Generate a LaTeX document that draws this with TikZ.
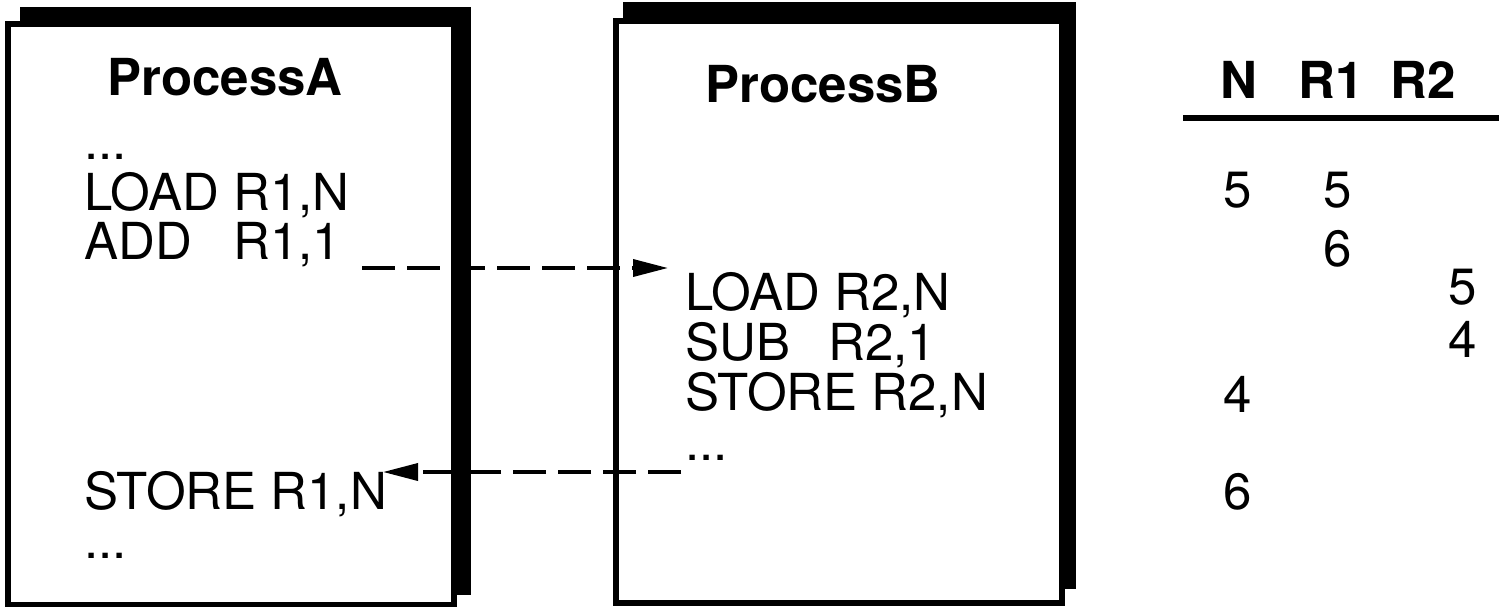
\documentclass[tikz,border=0pt]{standalone}
\usepackage{fontspec}
\setmainfont{TeX Gyre Heros}
\usetikzlibrary{arrows.meta}
\begin{document}
\begin{tikzpicture}[x=0.5pt,y=-0.5pt,
  txt/.style={anchor=base west,inner sep=0pt,font=\fontsize{25.5}{30}\selectfont},
  bold/.style={anchor=base west,inner sep=0pt,font=\fontsize{25.5}{30}\selectfont\bfseries},
  shadowbox/.style={fill=black},
  frontbox/.style={draw=black,fill=white,line width=3pt},
  flow/.style={line width=1.8pt,dash pattern=on 16.5pt off 6pt,-{Triangle[length=17.5pt,width=8.5pt]}}]
\useasboundingbox (0,0) rectangle (1499,606);
% Box A
\fill[shadowbox] (20,7) rectangle (471,595);
\draw[frontbox] (8,24) rectangle (454,605);
% Box B
\fill[shadowbox] (623,2) rectangle (1076,589);
\draw[frontbox,line width=2.75pt] (616,21) rectangle (1062,603);
% titles
\node[bold] (tA) at (107,95) {ProcessA};
\node[bold] (tB) at (705,102) {ProcessB};
% Process A code
\node[txt] (a0) at (84,159) {...};
\node[txt] (a1) at (84,210) {LOAD R1,N};
\node[txt] (a2) at (84,259) {\rlap{ADD}\phantom{LOAD }R1,1};
\node[txt] (a3) at (84,509) {STORE R1,N};
\node[txt] (a4) at (84,558) {...};
% Process B code
\node[txt] (b1) at (685,310) {LOAD R2,N};
\node[txt] (b2) at (685,360) {\rlap{SUB}\phantom{LOAD}\hspace{4pt}R2,1};
\node[txt] (b3) at (685,410) {STORE R2,N};
\node[txt] (b4) at (685,460) {...};
% table
\node[bold] (hN) at (1220,98) {N};
\node[bold] (hR1) at (1298,98) {R1};
\node[bold] (hR2) at (1390,98) {R2};
\draw[line width=3pt] (1183,118) -- (1499,118);
\node[txt] (n1) at (1223,207) {5};
\node[txt] (r11) at (1323,207) {5};
\node[txt] (r12) at (1323,266) {6};
\node[txt] (r21) at (1448,304) {5};
\node[txt] (r22) at (1448,357) {4};
\node[txt] (n2) at (1223,412) {4};
\node[txt] (n3) at (1223,509) {6};
% arrows
\coordinate (s1) at (362,268);
\coordinate (e1) at (668,268);
\coordinate (s2) at (681,472);
\coordinate (e2) at (383,472);
\draw[flow] (s1) -- (e1);
\draw[flow] (s2) -- (e2);
\end{tikzpicture}
\end{document}
